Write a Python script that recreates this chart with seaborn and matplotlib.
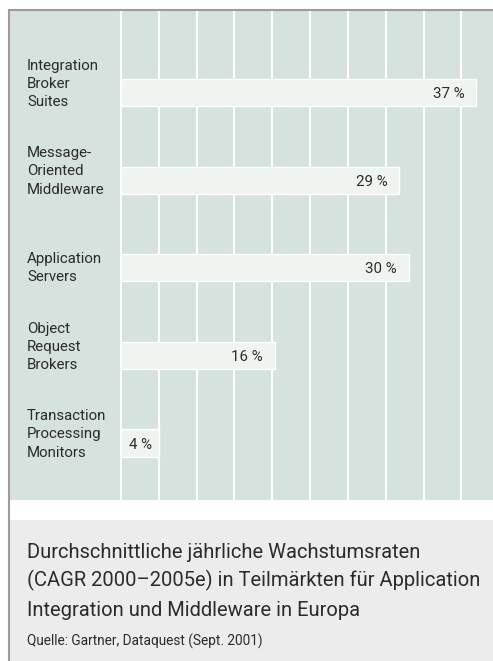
import numpy as np
import pandas as pd
import matplotlib
matplotlib.use("Agg")
import matplotlib.pyplot as plt
import seaborn as sns
from matplotlib.lines import Line2D
from matplotlib.patches import Rectangle

# chart data
categories = [
    "Integration\nBroker\nSuites",
    "Message-\nOriented\nMiddleware",
    "Application\nServers",
    "Object\nRequest\nBrokers",
    "Transaction\nProcessing\nMonitors",
]
values = [37, 29, 30, 16, 4]
value_labels = ["37 %", "29 %", "30 %", "16 %", "4 %"]
caption_lines = [
    "Durchschnittliche jährliche Wachstumsraten",
    "(CAGR 2000–2005e) in Teilmärkten für Application",
    "Integration und Middleware in Europa",
]
source_text = "Quelle: Gartner, Dataquest (Sept. 2001)"

# colours
panel_color = "#d6e2dd"
bar_color = "#f0f4f1"
caption_bg = "#ececec"
border_color = "#9c9c9c"
text_color = "#2b2b2b"

W, H = 493, 661  # pixels

sns.set_theme(style="white")
plt.rcParams["font.family"] = ["Roboto", "DejaVu Sans"]

fig = plt.figure(figsize=(W / 100, H / 100), dpi=100)
fig.patch.set_facecolor("white")

# chart panel (pixel box -> figure fraction)
px_l, px_r, px_t, px_b = 10, 493, 11, 500
ax = fig.add_axes([px_l / W, 1 - px_b / H, (px_r - px_l) / W, (px_b - px_t) / H])
ax.set_facecolor(panel_color)

df = pd.DataFrame({"segment": categories, "cagr": values})
sns.barplot(data=df, x="cagr", y="segment", orient="h", color=bar_color,
            saturation=1, width=0.31, ax=ax, zorder=3)

# scale: 9.6 px per percent, zero at x=121 px
px_per_unit = 9.6
x0 = 121
ax.set_xlim(-(x0 - px_l) / px_per_unit, (px_r - x0) / px_per_unit)
ax.set_ylim(4.65, -0.93)

grid_step = 3.94
ax.set_xticks(np.arange(0, 10) * grid_step)
ax.grid(axis="x", color="white", linewidth=1.5, zorder=1)
ax.set_axisbelow(True)
ax.tick_params(left=False, bottom=False, labelleft=False, labelbottom=False)
ax.set_xlabel("")
ax.set_ylabel("")
for s in ax.spines.values():
    s.set_visible(False)

px_per_cat = (px_b - px_t) / (4.65 + 0.93)
label_x = -(x0 - 27) / px_per_unit
for i, (cat, v, lab) in enumerate(zip(categories, values, value_labels)):
    # category labels, last line sits just below bar centre
    ax.text(label_x, i + 13.5 / px_per_cat, cat, ha="left", va="baseline",
            fontsize=10.8, color=text_color, linespacing=1.38)
    # value labels inside the bars
    if v < 8:
        ax.text(v / 2, i + 5.5 / px_per_cat, lab, ha="center", va="baseline",
                fontsize=10.8, color=text_color, zorder=4)
    else:
        ax.text(v - 12 / px_per_unit, i + 5.5 / px_per_cat, lab, ha="right",
                va="baseline", fontsize=10.8, color=text_color, zorder=4)

# caption box
fig.patches.append(Rectangle((10 / W, 0), (W - 10) / W, (H - 520) / H,
                             transform=fig.transFigure, facecolor=caption_bg,
                             edgecolor="none", zorder=0))
for k, line in enumerate(caption_lines):
    fig.text(27 / W, 1 - (557.5 + 29 * k) / H, line, ha="left", va="baseline",
             fontsize=14.5, color=text_color)
fig.text(27 / W, 1 - 645.5 / H, source_text, ha="left", va="baseline",
         fontsize=9.8, color=text_color)

# thin frame on top and left
fig.lines.append(Line2D([9 / W, 1], [1 - 10 / H, 1 - 10 / H], transform=fig.transFigure,
                        color=border_color, linewidth=1.5))
fig.lines.append(Line2D([9 / W, 9 / W], [0, 1 - 10 / H], transform=fig.transFigure,
                        color=border_color, linewidth=1.5))

fig.savefig("out.png", dpi=100)
plt.close(fig)
